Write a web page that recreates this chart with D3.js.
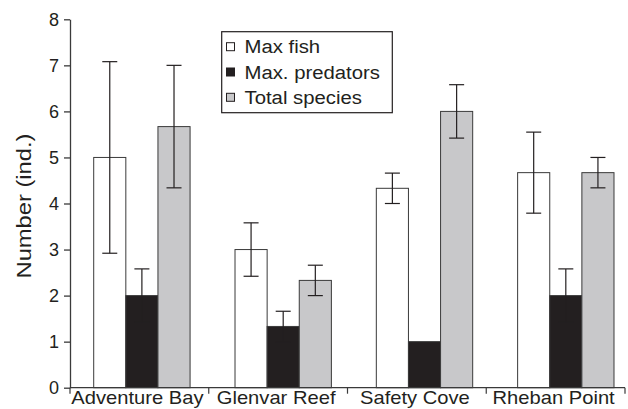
<!DOCTYPE html>
<html><head><meta charset="utf-8">
<script src="https://cdn.jsdelivr.net/npm/d3@7"></script>
<style>body{margin:0;background:#fff}svg{display:block}text{font-family:"Liberation Sans",Arial,sans-serif;fill:#231f20}</style>
</head><body><svg id="c" width="628" height="409"></svg>
<script>
const categories = ["Adventure Bay","Glenvar Reef","Safety Cove","Rheban Point"];
const seriesNames = ["Max fish","Max. predators","Total species"];
const maxFish = [5.0, 3.0, 4.33, 4.67];
const maxFishErr = [2.08, 0.58, 0.33, 0.88];
const maxPredators = [2.0, 1.33, 1.0, 2.0];
const maxPredatorsErr = [0.58, 0.33, 0.0, 0.58];
const totalSpecies = [5.67, 2.33, 6.0, 4.67];
const totalSpeciesErr = [1.33, 0.33, 0.58, 0.33];
const yTicks = [0,1,2,3,4,5,6,7,8];
const colors = ["#ffffff","#231f20","#c8c8ca"];

const svg = d3.select("#c");
const L = 70, R = 625, T = 19.3, B = 387.7;
const y = d3.scaleLinear().domain([0,8]).range([B,T]);
const xAxisScale = d3.scaleBand().domain(categories).range([L,R]).padding(0);
const xGroup = d3.scaleBand().domain(categories).range([L,R])
  .paddingInner(0.318).paddingOuter(0.1228).align(0.683);
const xSub = d3.scaleBand().domain(seriesNames).range([0,xGroup.bandwidth()]);

const vals = [maxFish, maxPredators, totalSpecies];
const errs = [maxFishErr, maxPredatorsErr, totalSpeciesErr];
const data = [];
categories.forEach((c,i)=>seriesNames.forEach((s,j)=>data.push({c,s,j,v:vals[j][i],e:errs[j][i]})));

// bars
svg.append("g").selectAll("rect").data(data).join("rect")
  .attr("x",d=>xGroup(d.c)+xSub(d.s))
  .attr("y",d=>y(d.v))
  .attr("width",xSub.bandwidth())
  .attr("height",d=>y(0)-y(d.v))
  .attr("fill",d=>colors[d.j])
  .attr("stroke","#3a3a3a").attr("stroke-width",1);

// error bars
const eg = svg.append("g").attr("stroke","#231f20").attr("stroke-width",1.2);
data.filter(d=>d.e>0).forEach(d=>{
  const cx = xGroup(d.c)+xSub(d.s)+xSub.bandwidth()/2;
  const hw = 7.5;
  eg.append("line").attr("x1",cx).attr("x2",cx).attr("y1",y(d.v+d.e)).attr("y2",y(d.v-d.e));
  eg.append("line").attr("x1",cx-hw).attr("x2",cx+hw).attr("y1",y(d.v+d.e)).attr("y2",y(d.v+d.e));
  eg.append("line").attr("x1",cx-hw).attr("x2",cx+hw).attr("y1",y(d.v-d.e)).attr("y2",y(d.v-d.e));
});

// y axis
const ya = svg.append("g").attr("transform",`translate(${L},0)`)
  .call(d3.axisLeft(y).tickValues(yTicks).tickFormat(d3.format("d")).tickSize(6).tickSizeOuter(0).tickPadding(5));
ya.select(".domain").attr("stroke","#3a3a3a").attr("stroke-width",1.3);
ya.selectAll(".tick line").attr("stroke","#3a3a3a").attr("stroke-width",1.3);
ya.selectAll("text").attr("font-size",18).attr("font-family","Liberation Sans, Arial, sans-serif").attr("fill","#231f20");

// x axis
svg.append("line").attr("x1",L).attr("x2",R).attr("y1",B).attr("y2",B)
  .attr("stroke","#3a3a3a").attr("stroke-width",1.3);
const bounds = categories.map(c=>xAxisScale(c)).concat([R]);
svg.append("g").selectAll("line").data(bounds).join("line")
  .attr("x1",d=>d).attr("x2",d=>d).attr("y1",B).attr("y2",B+6)
  .attr("stroke","#3a3a3a").attr("stroke-width",1.2);
svg.append("g").selectAll("text").data(categories).join("text")
  .attr("transform",d=>`translate(${xAxisScale(d)+xAxisScale.bandwidth()/2 - 2},404) scale(1.12,1)`)
  .attr("text-anchor","middle").attr("font-size",18).text(d=>d);

// y label
svg.append("text").attr("transform",`translate(30.5,206) rotate(-90) scale(1.13,1)`)
  .attr("text-anchor","middle").attr("font-size",21).text("Number (ind.)");

// legend
const lg = svg.append("g");
lg.append("rect").attr("x",221.7).attr("y",31.7).attr("width",170.6).attr("height",81)
  .attr("fill","#fff").attr("stroke","#231f20").attr("stroke-width",1.2);
seriesNames.forEach((s,j)=>{
  const cy = 46.7 + j*25.3;
  lg.append("rect").attr("x",226.5).attr("y",cy-4).attr("width",8).attr("height",8)
    .attr("fill",colors[j]).attr("stroke","#231f20").attr("stroke-width",1);
  lg.append("text").attr("transform",`translate(244.5,${cy+6.5}) scale(1.07,1)`)
    .attr("font-size",19).text(s);
});
</script></body></html>
